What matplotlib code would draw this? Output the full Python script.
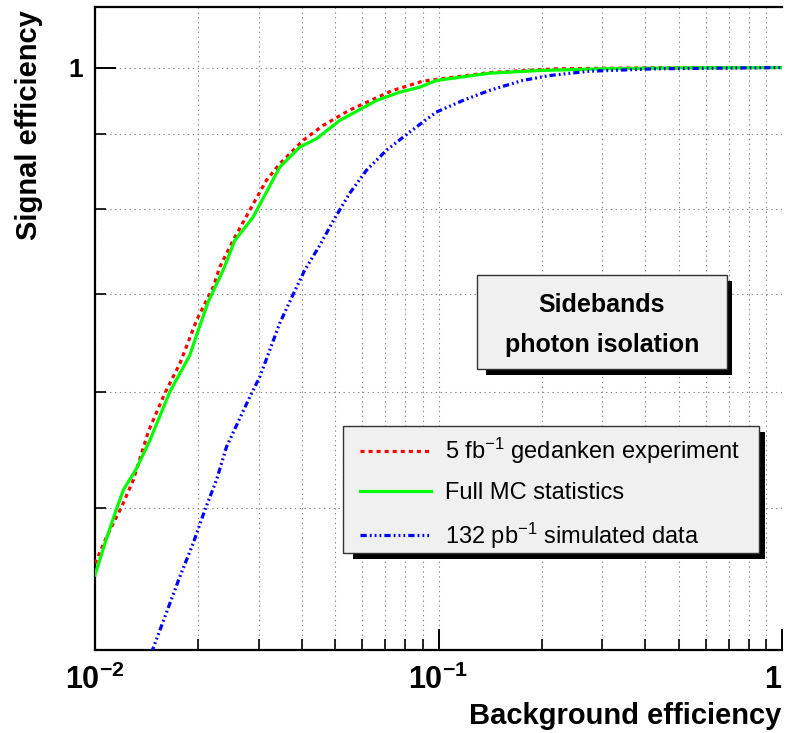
import matplotlib
matplotlib.use("Agg")
import matplotlib.pyplot as plt
from matplotlib.patches import Rectangle

plt.rcParams['font.family'] = ['Liberation Sans', 'DejaVu Sans']
plt.rcParams['mathtext.fontset'] = 'custom'
plt.rcParams['mathtext.rm'] = 'Liberation Sans'
plt.rcParams['mathtext.it'] = 'Liberation Sans:italic'
plt.rcParams['mathtext.bf'] = 'Liberation Sans:bold'
plt.rcParams['lines.scale_dashes'] = False

# ---------------- data ----------------
red_x = [0.01, 0.01081, 0.01196, 0.01293, 0.01429, 0.01597, 0.01766, 0.01975, 0.02208,
         0.02309, 0.02524, 0.02822, 0.03155, 0.0345, 0.04032, 0.04611, 0.055, 0.0735,
         0.0899, 0.1405, 0.22, 0.4, 1.0]
red_y = [0.458, 0.4777, 0.5009, 0.5224, 0.5636, 0.5988, 0.6274, 0.6716, 0.7078,
         0.7306, 0.7617, 0.7989, 0.8373, 0.8594, 0.8915, 0.9128, 0.935, 0.9645,
         0.9787, 0.992, 0.998, 0.9995, 1.0]

green_x = [0.01, 0.01069, 0.01143, 0.01209, 0.01322, 0.01445, 0.01652, 0.01888, 0.01998,
           0.02135, 0.0236, 0.02553, 0.02885, 0.0345, 0.03945, 0.04411, 0.05155, 0.066,
           0.077, 0.0881, 0.0985, 0.1405, 0.1966, 0.30, 0.5, 1.0]
green_y = [0.4498, 0.4728, 0.4956, 0.5142, 0.5321, 0.5561, 0.6003, 0.6357, 0.6612,
           0.6914, 0.7267, 0.7617, 0.7901, 0.8549, 0.8822, 0.8939, 0.920, 0.9494,
           0.9619, 0.9695, 0.9798, 0.9911, 0.9953, 0.998, 0.9995, 1.0]

blue_x = [0.0135, 0.01472, 0.01766, 0.01931, 0.02089, 0.02258, 0.02414, 0.02822, 0.03018,
          0.03227, 0.03449, 0.03764, 0.04077, 0.04508, 0.04985, 0.05511, 0.06163, 0.07047,
          0.08237, 0.0985, 0.1177, 0.1405, 0.1755, 0.2105, 0.2745, 0.428, 1.0]
blue_y = [0.37, 0.400, 0.4486, 0.4728, 0.4983, 0.5224, 0.5503, 0.5953, 0.6145,
          0.6409, 0.6685, 0.6987, 0.7267, 0.7556, 0.7886, 0.8203, 0.8504, 0.8777,
          0.9033, 0.9322, 0.9494, 0.9645, 0.9798, 0.9875, 0.9942, 0.998, 1.0]

labels = ['5 fb$^{-1}$ gedanken experiment', 'Full MC statistics', '132 pb$^{-1}$ simulated data']
x_ticks = [0.01, 0.1, 1.0]
x_ticklabels = [r'$\mathbf{10^{-2}}$', r'$\mathbf{10^{-1}}$', r'$\mathbf{1}$']
y_minor = [0.5, 0.6, 0.7, 0.8, 0.9]
title_lines = 'Sidebands\nphoton isolation'

# ---------------- figure ----------------
W, H = 788, 733
fig = plt.figure(figsize=(W / 100, H / 100), dpi=100)
L, R, B, T = 95, 782, 649.5, 7
ax = fig.add_axes([L / W, (H - B) / H, (R - L) / W, (B - T) / H])
ax.set_xscale('log')
ax.set_yscale('log')
ax.set_xlim(0.01, 1.0)
ax.set_ylim(0.4, 1.1)

lw = 2.3
ax.plot(red_x, red_y, color='#ff0000', lw=lw, linestyle=(0, (2.9, 2.9)), label=labels[0], zorder=3)
ax.plot(green_x, green_y, color='#00ff00', lw=lw, linestyle='-', label=labels[1], zorder=3)
ax.plot(blue_x, blue_y, color='#0000ff', lw=lw,
        linestyle=(0, (4.5, 2.2, 1.3, 2.2, 1.3, 2.2, 1.3, 2.2)), label=labels[2], zorder=3)

# ticks
ax.set_xticks(x_ticks)
ax.set_xticklabels(x_ticklabels)
ax.xaxis.set_minor_locator(matplotlib.ticker.LogLocator(base=10, subs=range(2, 10)))
ax.xaxis.set_minor_formatter(matplotlib.ticker.NullFormatter())
ax.set_yticks([1.0])
ax.set_yticklabels([r'$\mathbf{1}$'])
ax.set_yticks(y_minor, minor=True)
ax.yaxis.set_minor_formatter(matplotlib.ticker.NullFormatter())

ax.tick_params(axis='x', which='major', direction='in', length=15, width=1.4, labelsize=22, pad=11)
ax.tick_params(axis='x', which='minor', direction='in', length=8, width=1.2)
ax.tick_params(axis='y', which='major', direction='in', length=15, width=1.4, labelsize=19, pad=8)
ax.tick_params(axis='y', which='minor', direction='in', length=8, width=1.2)
ax.tick_params(top=False, right=False, which='both')
ax.get_xticklabels()[-1].set_horizontalalignment('right')

ax.grid(True, which='both', color='#888888', linestyle=(0, (1, 2.5)), linewidth=0.8, zorder=0)
ax.set_axisbelow(True)

for s in ['left', 'bottom', 'top']:
    ax.spines[s].set_linewidth(1.6)
ax.spines['right'].set_visible(False)

# axis labels
fig.text(781 / W, 1 - 716 / H, 'Background efficiency', ha='right', va='center',
         fontsize=21, fontweight='bold')
fig.text(29 / W, 1 - 10 / H, 'Signal efficiency', ha='center', va='top', rotation=90,
         fontsize=21, fontweight='bold')

# helper for pixel rectangles (drawn inside the axes artist list, unclipped)
def px_rect(x0, y0, x1, y1, z, **kw):
    r = Rectangle((x0 / W, 1 - y1 / H), (x1 - x0) / W, (y1 - y0) / H,
                  transform=fig.transFigure, zorder=z, clip_on=False, **kw)
    ax.add_artist(r)
    return r

# title box
px_rect(486, 281, 732, 375, 5, facecolor='black', edgecolor='none')
px_rect(477, 275, 727, 369, 6, facecolor='#f0f0f0', edgecolor='#333333', lw=1.0)
fig.text(602 / W, 1 - 325 / H, title_lines, ha='center', va='center', fontsize=18,
         fontweight='bold', linespacing=1.85, zorder=7)

# legend box + shadow
px_rect(353, 432, 765, 559, 6.5, facecolor='black', edgecolor='none')
px_rect(343, 426, 759, 553, 7, facecolor='#f0f0f0', edgecolor='#333333', lw=1.0)
leg = ax.legend(loc='upper left', bbox_to_anchor=(360 / W, 1 - 436 / H),
                bbox_transform=fig.transFigure,
                fontsize=17, handlelength=3.0, handletextpad=0.6, labelspacing=0.68,
                borderpad=0.0, borderaxespad=0, frameon=False)
leg.set_zorder(8)

fig.savefig('out.png', dpi=100)
